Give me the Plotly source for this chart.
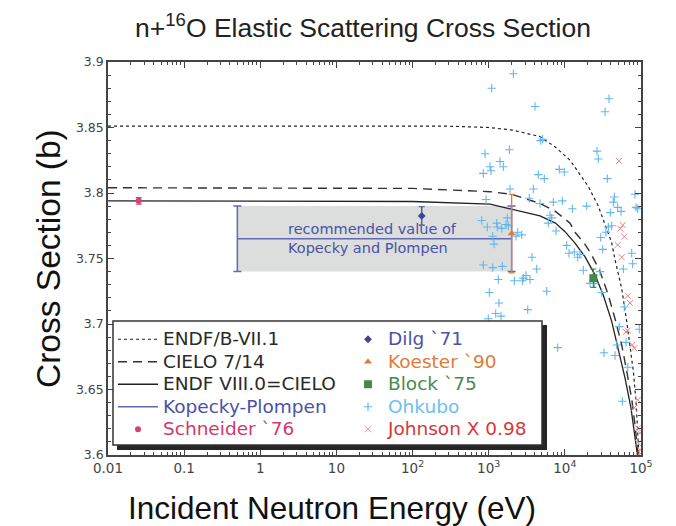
import plotly.graph_objects as go

# ---------------- data (energy in eV, cross section in b) ----------------
endf71_E = [0.01, 300, 1000, 2080, 4720, 7520, 11700, 20300, 27520, 35000, 41230,
            45600, 55850, 64900, 71780, 79300, 86100, 90580, 94190, 100000]
endf71_xs = [3.851, 3.851, 3.850, 3.848, 3.843, 3.835, 3.825, 3.805, 3.790, 3.774, 3.762,
             3.749, 3.727, 3.702, 3.684, 3.664, 3.641, 3.620, 3.600, 3.570]

cielo_E = [0.01, 100, 1040, 2000, 4720, 7520, 11700, 13580, 18350, 22500, 28970,
           37240, 45600, 55850, 64900, 75510, 83370, 90580, 100000]
cielo_xs = [3.804, 3.8035, 3.801, 3.799, 3.792, 3.786, 3.777, 3.770, 3.761, 3.7527, 3.740,
            3.722, 3.704, 3.684, 3.664, 3.643, 3.623, 3.600, 3.580]

endf8_E = [0.01, 100, 1040, 4720, 7520, 10050, 13580, 18350, 24900, 32000, 41230,
           50300, 61700, 73900, 83370, 90580, 100000]
endf8_xs = [3.794, 3.7935, 3.7915, 3.7825, 3.777, 3.7705, 3.7617, 3.7514, 3.7375, 3.722, 3.702,
            3.6815, 3.6587, 3.6358, 3.6154, 3.600, 3.580]

kp_E = [0.5, 2000]
kp_xs = [3.765, 3.765]
kp_err = [0.025, 0.025]

schneider_E = [0.0253]
schneider_xs = [3.794]
schneider_err = [0.0025]

dilg_E = [132]
dilg_xs = [3.7825]
dilg_err = [0.007]

koester_E = [2000]
koester_xs = [3.769]
koester_err = [0.030]

block_E = [23700]
block_xs = [3.735]
block_err = [0.007]

ohkubo_E = [2105, 1094, 4055, 894, 1866, 1408, 1555, 1040, 1072, 849,
            5117, 4820, 4479, 5370, 8450, 1905, 3855, 3412, 922, 4720,
            7050, 6385, 6716, 6064, 7650, 809, 959, 1274, 1297, 1482,
            1688, 1809, 1755, 1129, 1174, 2404, 2712, 2284, 3705, 38020,
            33670, 26420, 27520, 9840, 36130, 9265, 12530, 19370, 44670, 43340,
            49430, 54700, 39550, 83370, 86100, 90580, 37240, 41230, 34690, 29570,
            10570, 11350, 13310, 14750, 15810, 31420, 75510, 849, 1129, 1509,
            4267, 1337, 2168, 2763, 2850, 3090, 3486, 5775, 1019, 1365,
            3253, 1236, 1452, 988, 8050, 17490, 21400, 24380, 28970, 30480,
            58610, 77810, 60390, 51880, 63680, 95060, 47970, 32670, 45600, 66990,
            56890]
ohkubo_xs = [3.891, 3.880, 3.866, 3.830, 3.833, 3.824, 3.820, 3.820, 3.817, 3.815,
             3.841, 3.840, 3.814, 3.811, 3.818, 3.803, 3.803, 3.796, 3.795, 3.792,
             3.793, 3.783, 3.781, 3.777, 3.771, 3.779, 3.774, 3.777, 3.774, 3.773,
             3.776, 3.775, 3.781, 3.767, 3.761, 3.770, 3.768, 3.767, 3.751, 3.872,
             3.862, 3.832, 3.826, 3.816, 3.811, 3.794, 3.788, 3.790, 3.797, 3.793,
             3.789, 3.786, 3.785, 3.799, 3.789, 3.788, 3.774, 3.775, 3.770, 3.766,
             3.760, 3.754, 3.755, 3.751, 3.753, 3.757, 3.754, 3.745, 3.743, 3.744,
             3.742, 3.734, 3.733, 3.733, 3.735, 3.737, 3.734, 3.725, 3.724, 3.716,
             3.711, 3.708, 3.706, 3.704, 3.682, 3.741, 3.731, 3.731, 3.740, 3.724,
             3.742, 3.746, 3.713, 3.698, 3.686, 3.696, 3.684, 3.678, 3.676, 3.667,
             3.641]

johnson_E = [51420, 57540, 53470, 60390, 49430, 55850, 66990, 71780, 63060, 66990,
             76910, 81660, 90580, 81660, 90580, 97050, 92260, 97050, 94190]
johnson_xs = [3.8245, 3.7756, 3.7728, 3.7667, 3.7604, 3.751, 3.7215, 3.716, 3.694, 3.695,
              3.684, 3.6815, 3.642, 3.636, 3.6205, 3.617, 3.609, 3.604, 3.600]

x_tickvals = [0.01, 0.1, 1, 10, 100, 1000, 1e4, 1e5]
x_ticktext = ["0.01", "0.1", "1", "10", "10<sup>2</sup>", "10<sup>3</sup>",
              "10<sup>4</sup>", "10<sup>5</sup>"]

# ---------------- figure ----------------
W, H = 676, 526
ML, MR, MT, MB = 108, 35, 62, 71
PW, PH = W - ML - MR, H - MT - MB
LEG_FONT = "DejaVu Sans"


def px_x(p):
    return (p - ML) / PW


def px_y(p):
    return (H - MB - p) / PH


def lname(text, color):
    return f'<span style="font-size:18.5px;color:{color}">{text}</span>'


fig = go.Figure()

# recommended-value band of Kopecky & Plompen
fig.add_shape(type="rect", xref="x", yref="y",
              x0=kp_E[0], x1=kp_E[1],
              y0=kp_xs[0] - kp_err[0], y1=kp_xs[0] + kp_err[0],
              fillcolor="#dcdedd", line_width=0, layer="below")

fig.add_trace(go.Scatter(x=endf71_E, y=endf71_xs, mode="lines",
                         line=dict(color="#222222", width=1.2, dash="3px,3px"),
                         name=lname("ENDF/B-VII.1", "#2a2a2a"), legendrank=1, legend="legend"))
fig.add_trace(go.Scatter(x=cielo_E, y=cielo_xs, mode="lines",
                         line=dict(color="#333333", width=1.4, dash="9px,6px"),
                         name=lname("CIELO 7/14", "#2a2a2a"), legendrank=2, legend="legend"))
fig.add_trace(go.Scatter(x=endf8_E, y=endf8_xs, mode="lines",
                         line=dict(color="#222222", width=1.3),
                         name=lname("ENDF VIII.0=CIELO", "#2a2a2a"), legendrank=3, legend="legend"))
fig.add_trace(go.Scatter(x=kp_E, y=kp_xs, mode="lines",
                         line=dict(color="#6467b2", width=1.5),
                         error_y=dict(type="data", array=kp_err, color="#6467b2",
                                      thickness=1.5, width=4),
                         name=lname("Kopecky-Plompen", "#4a52a6"), legendrank=4, legend="legend"))
fig.add_trace(go.Scatter(x=ohkubo_E, y=ohkubo_xs, mode="markers",
                         marker=dict(symbol="cross-thin", size=6, color="#62b6ee",
                                     line=dict(color="#62b6ee", width=1.1)),
                         name=lname("Ohkubo", "#6cc0f2"), legendrank=4, legend="legend2"))
fig.add_trace(go.Scatter(x=johnson_E, y=johnson_xs, mode="markers",
                         marker=dict(symbol="x-thin", size=6, color="#ea8585",
                                     line=dict(color="#ea8585", width=1)),
                         name=lname("Johnson X 0.98", "#d63838"), legendrank=5, legend="legend2"))
fig.add_trace(go.Scatter(x=schneider_E, y=schneider_xs, mode="markers",
                         marker=dict(symbol="circle", size=6, color="#d8407a"),
                         error_y=dict(type="data", array=schneider_err, color="#d8407a",
                                      thickness=1.2, width=3),
                         name=lname("Schneider `76", "#d2386d"), legendrank=5, legend="legend"))
fig.add_trace(go.Scatter(x=dilg_E, y=dilg_xs, mode="markers",
                         marker=dict(symbol="diamond", size=6, color="#3e4595"),
                         error_y=dict(type="data", array=dilg_err, color="#3e4595",
                                      thickness=1.2, width=3),
                         name=lname("Dilg `71", "#4a52a6"), legendrank=1, legend="legend2"))
fig.add_trace(go.Scatter(x=koester_E, y=koester_xs, mode="markers",
                         marker=dict(symbol="triangle-up", size=7, color="#e07b39"),
                         error_y=dict(type="data", array=koester_err, color="#e07b39",
                                      thickness=1.3, width=3),
                         name=lname("Koester `90", "#e07b39"), legendrank=2, legend="legend2"))
fig.add_trace(go.Scatter(x=block_E, y=block_xs, mode="markers",
                         marker=dict(symbol="square", size=8, color="#47874a"),
                         error_y=dict(type="data", array=block_err, color="#47874a",
                                      thickness=1.2, width=3),
                         name=lname("Block `75", "#4a8a4c"), legendrank=3, legend="legend2"))

# label inside the band (annotation x in log10 units on a log axis)
fig.add_annotation(x=1.48, y=kp_xs[0], xref="x", yref="y",
                   text="recommended value of<br>Kopecky and Plompen",
                   showarrow=False, font=dict(family=LEG_FONT, size=14.5, color="#4a52a6"),
                   align="left", xanchor="center", yanchor="middle")

# axis titles
fig.add_annotation(x=px_x(48), y=px_y(259), xref="paper", yref="paper",
                   text="Cross Section (b)", textangle=-90, showarrow=False,
                   font=dict(family="Liberation Sans", size=33.5, color="#111"),
                   xanchor="center", yanchor="middle")
fig.add_annotation(x=px_x(332), y=px_y(508), xref="paper", yref="paper",
                   text="Incident Neutron Energy (eV)", showarrow=False,
                   font=dict(family="Liberation Sans", size=31.5, color="#111"),
                   xanchor="center", yanchor="middle")

# legend frame with drop shadow
fig.add_shape(type="rect", xref="paper", yref="paper",
              x0=px_x(117), x1=px_x(547), y0=px_y(450), y1=px_y(325),
              fillcolor="#262626", line_width=0, layer="above")
fig.add_shape(type="rect", xref="paper", yref="paper",
              x0=px_x(113), x1=px_x(542), y0=px_y(445), y1=px_y(321),
              fillcolor="white", line=dict(color="#333", width=1.5), layer="above")

axis_common = dict(showline=True, linecolor="#444", linewidth=1.5, mirror="ticks",
                   ticks="inside", tickcolor="#444", showgrid=False, zeroline=False)

fig.update_xaxes(type="log", range=[-2, 5], tickmode="array", tickvals=x_tickvals,
                 ticktext=x_ticktext, ticklen=6, tickwidth=1,
                 tickfont=dict(family="DejaVu Sans", size=13.5, color="#444"),
                 minor=dict(ticks="inside", ticklen=3, dtick="D1", tickcolor="#444",
                            tickwidth=1, showgrid=False),
                 **axis_common)
fig.update_yaxes(range=[3.6, 3.9], dtick=0.05, ticklen=6, tickwidth=1,
                 tickfont=dict(family="DejaVu Sans", size=12.5, color="#444"),
                 minor=dict(ticks="inside", ticklen=3, dtick=0.01, tickcolor="#444",
                            tickwidth=1, showgrid=False),
                 **axis_common)

leg_common = dict(xanchor="left", yanchor="top", bgcolor="rgba(0,0,0,0)",
                  borderwidth=0, orientation="v", traceorder="normal",
                  font=dict(family=LEG_FONT, size=15, color="#2a2a2a"),
                  itemclick=False, itemdoubleclick=False)

fig.update_layout(
    width=W, height=H, autosize=False,
    margin=dict(l=ML, r=MR, t=MT, b=MB),
    paper_bgcolor="white", plot_bgcolor="white",
    title=dict(text="n+<sup>16</sup>O Elastic Scattering Cross Section",
               font=dict(family="Liberation Sans", size=26.5, color="#222"),
               x=363 / W, xanchor="center", xref="container",
               y=1 - 28 / H, yanchor="middle", yref="container"),
    showlegend=True,
    legend=dict(x=px_x(113), y=px_y(323), itemwidth=40, **leg_common),
    legend2=dict(x=px_x(348), y=px_y(323), itemwidth=30, **leg_common),
)

fig.write_html("out.html")
